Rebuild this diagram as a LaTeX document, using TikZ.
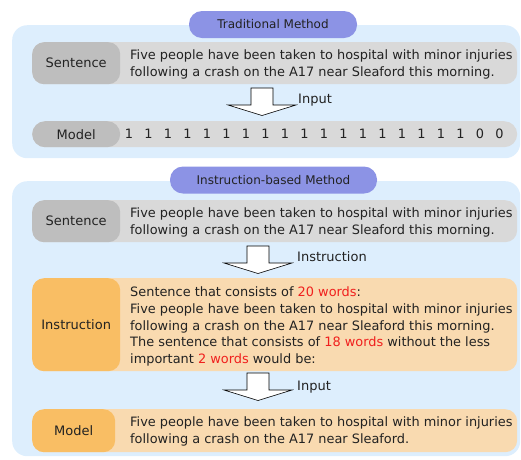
\documentclass[tikz,border=0pt]{standalone}
\usepackage{fontspec}
\setmainfont{DejaVu Sans}
\usetikzlibrary{positioning}

\definecolor{panelblue}{HTML}{DDEEFD}
\definecolor{titleblue}{HTML}{8C93E5}
\definecolor{graylab}{HTML}{BEBEBE}
\definecolor{graybox}{HTML}{D9D9D9}
\definecolor{orangelab}{HTML}{F9BE64}
\definecolor{orangebox}{HTML}{F9DAB0}
\definecolor{wordred}{HTML}{F0201E}
\definecolor{ink}{HTML}{222222}

% block arrow pointing down, from the top middle of its shaft
\newcommand{\blockarrow}[1]{%
  \draw[arrowshape] (#1) ++(-11,0) -- ++(0,17) -- ++(-23,0) -- ++(34,10.5)
    -- ++(34,-10.5) -- ++(-23,0) -- ++(0,-17) -- cycle;}

\begin{document}
\begin{tikzpicture}[x=1pt,y=-1pt,text=ink,
    font=\fontsize{12.9}{17}\selectfont,
    panel/.style={fill=panelblue,rounded corners=15pt,minimum width=508pt,
                  anchor=north west,inner sep=0pt},
    title/.style={fill=titleblue,rounded corners=13pt,minimum height=27pt,
                  inner sep=0pt,font=\fontsize{12}{14}\selectfont},
    rowbox/.style={rounded corners=12pt,minimum width=485pt,anchor=north west,
                   inner sep=0pt},
    rowlabel/.style={rounded corners=12pt,minimum width=88pt,anchor=north west,
                     inner sep=0pt,font=\fontsize{13}{15}\selectfont},
    rowtext/.style={anchor=west,align=left,inner sep=0pt},
    digit/.style={inner sep=0pt},
    note/.style={anchor=west,inner sep=0pt,font=\fontsize{13}{15}\selectfont},
    arrowshape/.style={draw=black,fill=white,line width=0.6pt,line join=miter}]

  \useasboundingbox (0,0) rectangle (521,459);

  % traditional method
  \node[panel,minimum height=133pt] (trad) at (12,25) {};
  \node[title,minimum width=168pt] (tradtitle) at (273,24.5) {Traditional Method};

  \node[rowbox,fill=graybox,minimum height=42pt] (sbox1) at (32,42) {};
  \node[rowlabel,fill=graylab,minimum height=42pt] (slab1) at (sbox1.north west) {Sentence};
  \node[rowtext] (stext1) at (130,64) {Five people have been taken to hospital with minor injuries\\
    following a crash on the A17 near Sleaford this morning.};

  \coordinate (arr1) at (262,88);
  \blockarrow{arr1}
  \node[note] (input1) at ([shift={(36,12)}]arr1) {Input};

  \node[rowbox,fill=graybox,minimum height=26pt,rounded corners=13pt] (mbox1) at (32,121) {};
  \node[rowlabel,fill=graylab,minimum height=26pt,rounded corners=13pt] (mlab1) at (mbox1.north west) {Model};
  \foreach \v [count=\i from 0] in {1,1,1,1,1,1,1,1,1,1,1,1,1,1,1,1,1,1,0,0}
    \node[digit] (d\i) at (129+19.5*\i,134) {\v};

  % instruction-based method
  \node[panel,minimum height=275pt] (inst) at (12,181) {};
  \node[title,minimum width=207pt] (insttitle) at (273.5,180) {Instruction-based Method};

  \node[rowbox,fill=graybox,minimum height=42pt] (sbox2) at (32,200) {};
  \node[rowlabel,fill=graylab,minimum height=42pt] (slab2) at (sbox2.north west) {Sentence};
  \node[rowtext] (stext2) at (130,222) {Five people have been taken to hospital with minor injuries\\
    following a crash on the A17 near Sleaford this morning.};

  \coordinate (arr2) at (258,246);
  \blockarrow{arr2}
  \node[note] (instr) at ([shift={(39,11)}]arr2) {Instruction};

  \node[rowbox,fill=orangebox,minimum height=93pt] (ibox) at (32,278) {};
  \node[rowlabel,fill=orangelab,minimum height=93pt] (ilab) at (ibox.north west) {Instruction};
  \node[rowtext,font=\fontsize{12.9}{16.7}\selectfont] (itext) at (130,326.5)
    {Sentence that consists of \textcolor{wordred}{20 words}:\\
     Five people have been taken to hospital with minor injuries\\
     following a crash on the A17 near Sleaford this morning.\\
     The sentence that consists of \textcolor{wordred}{18 words} without the less\\
     important \textcolor{wordred}{2 words} would be:};

  \coordinate (arr3) at (258,373);
  \blockarrow{arr3}
  \node[note] (input2) at ([shift={(39,14)}]arr3) {Input};

  \node[rowbox,fill=orangebox,minimum height=43pt] (mbox2) at (32,409) {};
  \node[rowlabel,fill=orangelab,minimum height=43pt,minimum width=83pt] (mlab2) at (mbox2.north west) {Model};
  \node[rowtext] (mtext2) at (130,431.5) {Five people have been taken to hospital with minor injuries\\
    following a crash on the A17 near Sleaford.};

\end{tikzpicture}
\end{document}
